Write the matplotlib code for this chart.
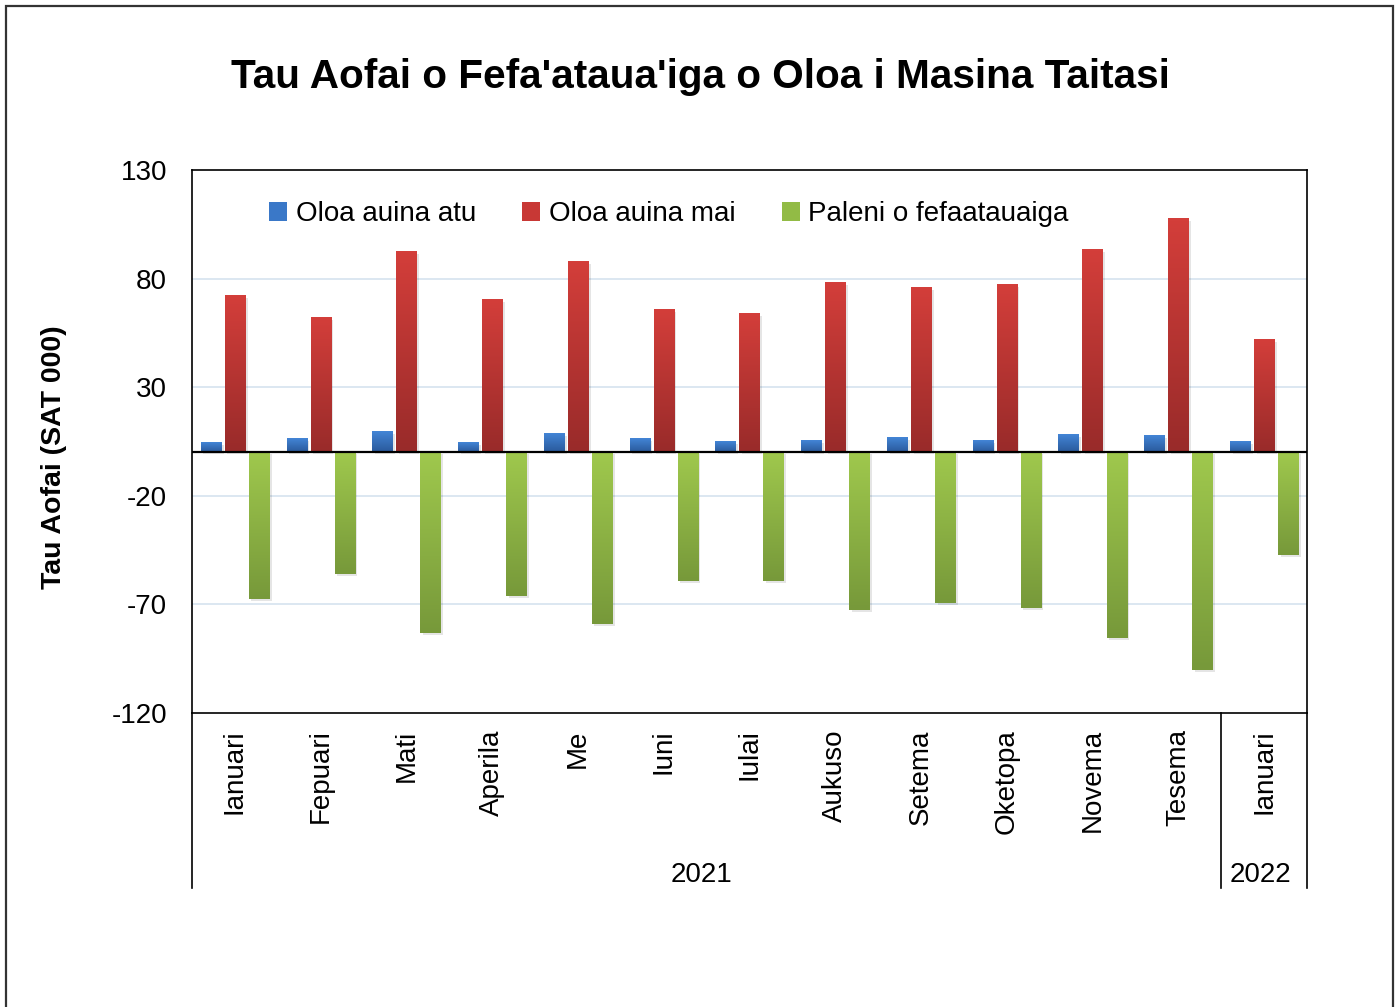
import matplotlib
matplotlib.use("Agg")
import matplotlib.pyplot as plt
import numpy as np
from matplotlib.patches import Rectangle
from matplotlib.colors import LinearSegmentedColormap

months = ["Ianuari", "Fepuari", "Mati", "Aperila", "Me", "Iuni", "Iulai",
          "Aukuso", "Setema", "Oketopa", "Novema", "Tesema", "Ianuari"]
years = ["2021", "2022"]
year_counts = [12, 1]
exports = [4.3, 6.2, 9.4, 4.3, 8.5, 6.2, 4.8, 5.2, 6.6, 5.2, 8.0, 7.6, 4.8]
imports = [72.0, 61.9, 92.3, 70.2, 87.7, 65.6, 63.7, 78.0, 75.7, 77.1, 93.2, 107.5, 51.7]
balance = [-67.5, -56.0, -83.2, -66.1, -79.0, -59.2, -59.2, -72.6, -69.4, -71.7, -85.5, -100.2, -47.2]
series_names = ["Oloa auina atu", "Oloa auina mai", "Paleni o fefaatauaiga"]
yticks = [130, 80, 30, -20, -70, -120]

plt.rcParams['font.family'] = ['Liberation Sans', 'DejaVu Sans']

fig = plt.figure(figsize=(13.98, 10.07), dpi=100)
ax = fig.add_axes([192/1398, 1-713/1007, (1307-192)/1398, (713-170)/1007])

# (top colour, bottom colour) for each series
grads = [("#4385d6", "#2a5a9c"), ("#d33e3a", "#992b2a"), ("#9fc84d", "#77993a")]
legend_cols = ["#3a78c8", "#c83835", "#92bb45"]

x = np.arange(len(months))
w = 0.235
offs = [-0.28, 0.0, 0.28]

def grad_bar(xc, val, c_top, c_bot):
    cmap = LinearSegmentedColormap.from_list("g", [c_bot, c_top])
    g = np.linspace(0, 1, 64).reshape(-1, 1)
    y0, y1 = (0, val) if val >= 0 else (val, 0)
    ax.add_patch(Rectangle((xc - w/2 + 0.03, y0 - 0.8), w, y1 - y0, facecolor="#000000",
                           alpha=0.10, edgecolor="none", zorder=2))
    ax.imshow(g, extent=(xc - w/2, xc + w/2, y0, y1), origin="lower", cmap=cmap,
              aspect="auto", zorder=3, interpolation="bilinear")

for si, data in enumerate([exports, imports, balance]):
    for i, v in enumerate(data):
        grad_bar(x[i] + offs[si], v, *grads[si])

ax.set_xlim(-0.5, len(months) - 0.5)
ax.set_ylim(-120, 130)
ax.set_yticks(yticks)
ax.set_yticklabels([str(t) for t in yticks], fontsize=20)
ax.tick_params(axis="y", length=0, pad=18)
ax.set_xticks([])
for t in [80, 30, -20, -70]:
    ax.axhline(t, color="#d6e3ef", lw=1.2, zorder=1)
ax.axhline(0, color="black", lw=1.6, zorder=4)
for s in ax.spines.values():
    s.set_color("black")
    s.set_linewidth(1.2)

# category labels
for i, m in enumerate(months):
    ax.text(x[i], -0.030, m, transform=ax.get_xaxis_transform(), rotation=90,
            ha="center", va="top", fontsize=20)

# group separators & year labels
bot = -(888 - 713) / (713 - 170)
start = -0.5
bounds = [start]
for c in year_counts:
    start += c
    bounds.append(start)
for b in bounds:
    ax.plot([b, b], [0, bot], transform=ax.get_xaxis_transform(), color="black",
            lw=1.2, clip_on=False)
year_shift = [-0.06, -0.04]
for yi, yr in enumerate(years):
    cx = (bounds[yi] + bounds[yi + 1]) / 2 + year_shift[yi]
    ax.text(cx, -(875 - 713) / (713 - 170), yr, transform=ax.get_xaxis_transform(),
            ha="center", va="center", fontsize=20)

ax.set_ylabel("Tau Aofai (SAT 000)", fontsize=20.5, fontweight="bold")
ax.yaxis.set_label_coords(-125/1115, 0.472)

# legend
handles = [Rectangle((0, 0), 1, 1, facecolor=c, edgecolor="none") for c in legend_cols]
leg = ax.legend(handles, series_names, loc="center",
                ncol=3, frameon=False, fontsize=20, handlelength=0.65, handleheight=0.65,
                handletextpad=0.3, columnspacing=1.68)
leg.set_bbox_to_anchor((669/1398, 1-214/1007), transform=fig.transFigure)

fig.text(700/1398, 1-77/1007, "Tau Aofai o Fefa'ataua'iga o Oloa i Masina Taitasi",
         ha="center", va="center", fontsize=29.2, fontweight="bold")

fig.patches.append(Rectangle((6/1398, -0.05), (1393-6)/1398, 1.05 - 6/1007,
                             transform=fig.transFigure, fill=False, edgecolor="#333333",
                             lw=1.6))

fig.savefig("out.png", dpi=100)
